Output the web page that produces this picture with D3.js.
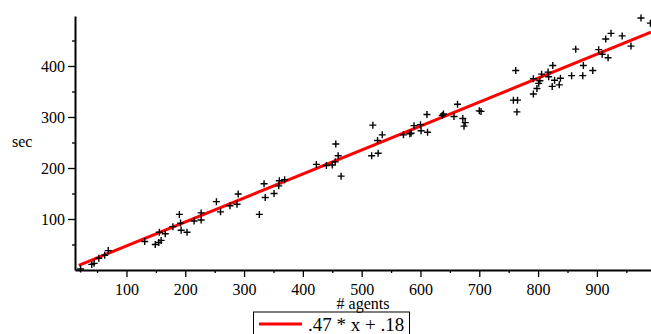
<!DOCTYPE html>
<html>
<head>
<meta charset="utf-8">
<script src="https://cdn.jsdelivr.net/npm/d3@7"></script>
<style>
  html, body { margin: 0; padding: 0; background: #fff; }
  svg { display: block; }
  svg text { font-family: "Liberation Serif", "Times New Roman", serif; }
</style>
</head>
<body>
<svg id="chart" width="651" height="334"></svg>
<script>
// measured points (# agents, sec)
const agents = [22, 41, 45, 53, 63, 69, 131, 149, 155, 159,
  156, 166, 179, 190, 192, 193, 203, 215, 227, 227,
  253, 260, 276, 288, 290, 326, 334, 336, 351, 359,
  360, 369, 423, 440, 450, 455, 460, 456, 465, 519,
  517, 528, 527, 535, 571, 582, 584, 589, 600, 601,
  612, 611, 637, 639, 657, 663, 672, 676, 674, 700,
  703, 762, 758, 765, 764, 792, 798, 801, 803, 792,
  806, 817, 818, 825, 824, 828, 838, 836, 857, 876,
  877, 893, 864, 903, 909, 919, 915, 924, 943, 958,
  975, 991];
const secs = [2, 11, 13, 23, 29, 38, 56, 50, 54, 58,
  74, 71, 85, 109, 92, 78, 74, 96, 112, 98,
  134, 114, 126, 129, 149, 109, 169, 142, 150, 165,
  175, 177, 207, 205, 206, 212, 224, 247, 184, 284,
  224, 229, 254, 265, 265, 267, 268, 283, 285, 273,
  270, 305, 303, 306, 301, 325, 297, 289, 282, 312,
  311, 391, 333, 333, 310, 345, 356, 366, 371, 375,
  384, 388, 379, 401, 360, 372, 376, 363, 381, 381,
  401, 391, 433, 432, 423, 416, 453, 464, 459, 439,
  494, 484];

// least squares fit shown in the legend
const fitSlope = 0.47;
const fitIntercept = 0.18;
const fitRange = [19, 992];
const fitLabel = '.47 * x + .18';

const xMajor = [100, 200, 300, 400, 500, 600, 700, 800, 900];
const xMinor = [50, 150, 250, 350, 450, 550, 650, 750, 850, 950];
const yMajor = [100, 200, 300, 400];
const yMinor = [50, 150, 250, 350, 450];

const svg = d3.select('#chart');

const x = d3.scaleLinear().domain([12.5, 992]).range([75, 651]);
const y = d3.scaleLinear().domain([0, 498]).range([270, 16]);

const points = agents.map((a, i) => ({a: a, s: secs[i]}));

// axes: minor ticks first, then labelled major ticks
svg.append('g')
  .attr('transform', `translate(0, ${y(0)})`)
  .call(d3.axisBottom(x).tickValues(xMinor).tickSize(3).tickFormat(''))
  .call(g => g.select('.domain').remove());

svg.append('g')
  .attr('transform', `translate(0, ${y(0)})`)
  .call(d3.axisBottom(x).tickValues(xMajor).tickSize(7).tickPadding(7).tickSizeOuter(0));

svg.append('g')
  .attr('transform', `translate(${x(12.5)}, 0)`)
  .call(d3.axisLeft(y).tickValues(yMinor).tickSize(3).tickFormat(''))
  .call(g => g.select('.domain').remove());

svg.append('g')
  .attr('transform', `translate(${x(12.5)}, 0)`)
  .call(d3.axisLeft(y).tickValues(yMajor).tickSize(7).tickPadding(3).tickSizeOuter(0));

svg.selectAll('g')
  .attr('font-family', '"Liberation Serif", serif')
  .attr('font-size', 16);
svg.selectAll('.tick line').attr('stroke', '#000').attr('stroke-width', 1.3);
svg.selectAll('.domain').attr('stroke', '#000').attr('stroke-width', 2);
svg.selectAll('.tick text').attr('fill', '#000');

// fitted line
svg.append('path')
  .datum(fitRange)
  .attr('fill', 'none')
  .attr('stroke', '#ff0000')
  .attr('stroke-width', 3)
  .attr('d', d3.line()
    .x(d => x(d))
    .y(d => y(fitSlope * d + fitIntercept)));

// crosses
svg.append('g')
  .selectAll('path')
  .data(points)
  .enter()
  .append('path')
  .attr('transform', d => `translate(${x(d.a)}, ${y(d.s)})`)
  .attr('d', 'M-3.5,0H3.5M0,-3.5V3.5')
  .attr('stroke', '#000')
  .attr('stroke-width', 1.4)
  .attr('fill', 'none');

// axis titles
svg.append('text')
  .attr('x', 12)
  .attr('y', 147)
  .style('font-size', '16px')
  .text('sec');

svg.append('text')
  .attr('x', 363)
  .attr('y', 309)
  .attr('text-anchor', 'middle')
  .style('font-size', '16px')
  .text('# agents');

// legend
const legend = svg.append('g');
legend.append('rect')
  .attr('x', 253.5)
  .attr('y', 312)
  .attr('width', 156)
  .attr('height', 30)
  .attr('fill', 'none')
  .attr('stroke', '#000')
  .attr('stroke-width', 1);
legend.append('line')
  .attr('x1', 259)
  .attr('x2', 302)
  .attr('y1', 324)
  .attr('y2', 324)
  .attr('stroke', '#ff0000')
  .attr('stroke-width', 3);
legend.append('text')
  .attr('x', 308)
  .attr('y', 331)
  .style('font-size', '19px')
  .text(fitLabel);
</script>
</body>
</html>
